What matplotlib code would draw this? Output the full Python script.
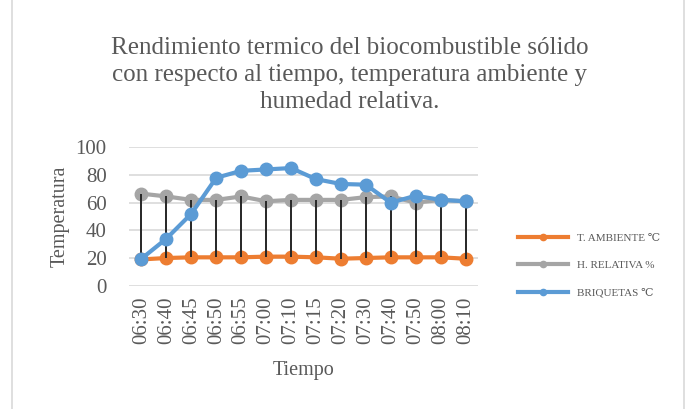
import matplotlib
matplotlib.use("Agg")
import matplotlib.pyplot as plt
from matplotlib.patches import Rectangle

plt.rcParams["font.family"] = ["Liberation Serif", "DejaVu Serif"]

tiempos = ["06:30", "06:40", "06:45", "06:50", "06:55", "07:00", "07:10",
           "07:15", "07:20", "07:30", "07:40", "07:50", "08:00", "08:10"]
t_ambiente = [19, 20, 20.5, 20.5, 20.5, 21, 21, 20.5, 19.5, 20, 20.5, 20.5, 20.5, 19.5]
h_relativa = [66.5, 64.5, 62, 62, 64.5, 61, 62, 62, 62, 64, 64.5, 60, 62, 61]
briquetas = [19.5, 34, 52, 78, 83, 84, 85, 77, 73.5, 73, 60, 65, 62, 61]

NARANJA = "#ED7D31"
GRIS = "#A5A5A5"
AZUL = "#5B9BD5"
TEXTO = "#595959"

fig = plt.figure(figsize=(6.86, 4.09), dpi=100)
fig.patches.append(Rectangle((12 / 686, -0.05), 672 / 686, 1.2, transform=fig.transFigure,
                             fill=False, edgecolor="#D9D9D9", linewidth=1.2))

ax = fig.add_axes([129 / 686, 1 - 285.7 / 409, 349 / 686, 138.4 / 409])
x = list(range(len(tiempos)))

ax.plot(x, t_ambiente, color=NARANJA, lw=3, marker="o", ms=9, zorder=3, label="T. AMBIENTE ℃")
ax.plot(x, h_relativa, color=GRIS, lw=3, marker="o", ms=9, zorder=3, label="H. RELATIVA %")
ax.vlines(x, t_ambiente, h_relativa, color="#262626", lw=1.4, zorder=4)
ax.plot(x, briquetas, color=AZUL, lw=3, marker="o", ms=9, zorder=5, label="BRIQUETAS ℃")

ax.set_xlim(-0.5, len(tiempos) - 0.5)
ax.set_ylim(0, 100)
ax.set_yticks(range(0, 101, 20))
ax.set_xticks(x)
ax.set_xticklabels(tiempos, rotation=90)
ax.tick_params(axis="both", length=0, labelsize=15, labelcolor=TEXTO)
ax.tick_params(axis="y", pad=16)
ax.tick_params(axis="x", pad=8)
ax.grid(axis="y", color="#D9D9D9", lw=1.2)
ax.set_axisbelow(True)
for s in ax.spines.values():
    s.set_visible(False)

ax.set_ylabel("Temperatura", fontsize=14.5, color=TEXTO, labelpad=4)
ax.set_xlabel("Tiempo", fontsize=14.5, color=TEXTO, labelpad=12)

fig.text(350 / 686, 1 - 75 / 409,
         "Rendimiento termico del biocombustible sólido\n"
         "con respecto al tiempo, temperatura ambiente y\n"
         "humedad relativa.",
         ha="center", va="center", fontsize=18, color=TEXTO, linespacing=1.32)

ax.legend(loc="center left", bbox_to_anchor=(508 / 349 - 129 / 349, 0.5 - (265 - 216) / 138.4),
          frameon=False, fontsize=8, labelcolor=TEXTO, markerscale=0.5,
          handlelength=4.5, labelspacing=1.6)

fig.savefig("out.png", dpi=100)
